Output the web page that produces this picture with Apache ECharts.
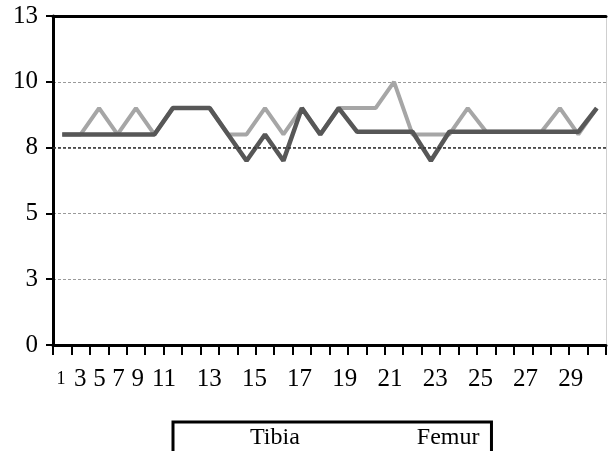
<!DOCTYPE html>
<html><head><meta charset="utf-8">
<script src="https://cdn.jsdelivr.net/npm/echarts@6/dist/echarts.min.js"></script>
<style>html,body{margin:0;padding:0;background:#fff}#c{width:609px;height:451px}</style>
</head><body><div id="c"></div>
<script>
const days = ['1','2','3','4','5','6','7','8','9','10','11','12','13','14','15','16','17','18','19','20','21','22','23','24','25','26','27','28','29','30'];
const tickLabels = ['1','3','5','7','9','11','13','15','17','19','21','23','25','27','29'];
const tibia = [8,8,9,8,9,8,9,9,9,8,8,9,8,9,8,9,9,9,10,8,8,8,9,8.1,8.1,8.1,8.1,9,8,9];
const femur = [8,8,8,8,8,8,9,9,9,8,7,8,7,9,8,9,8.1,8.1,8.1,8.1,7,8.1,8.1,8.1,8.1,8.1,8.1,8.1,8.1,9];
const yMin = 0, yMax = 12.5, yStep = 2.5;
const refLine = 7.5;

const serif = '"Liberation Serif","Times New Roman",serif';
const chart = echarts.init(document.getElementById('c'), null, {renderer: 'canvas'});

const labelGraphics = tickLabels.map((t, k) => ({
  type: 'text',
  x: k < 5 ? 61 + k * 19.2 : 164 + (k - 5) * 45.2,
  y: 379,
  silent: true,
  style: {text: t, fill: '#000', fontFamily: serif, fontSize: k === 0 ? 18 : 25, align: 'center', verticalAlign: 'middle'}
}));

chart.setOption({
  animation: false,
  backgroundColor: '#fff',
  grid: {left: 53, right: 3, top: 16, bottom: 106, containLabel: false},
  xAxis: [{
    type: 'category', data: days, boundaryGap: true,
    axisLine: {onZero: false, lineStyle: {color: '#000', width: 3}},
    axisTick: {show: true, interval: 0, length: 10, lineStyle: {color: '#000', width: 2}},
    axisLabel: {show: false}, splitLine: {show: false}
  }, {
    type: 'category', data: days, position: 'top', boundaryGap: true,
    axisLine: {onZero: false, lineStyle: {color: '#000', width: 3}},
    axisTick: {show: false}, axisLabel: {show: false}, splitLine: {show: false}
  }],
  yAxis: [{
    type: 'value', min: yMin, max: yMax, interval: yStep,
    axisLine: {show: true, onZero: false, lineStyle: {color: '#000', width: 3}},
    axisTick: {show: true, length: 7, lineStyle: {color: '#000', width: 2}},
    axisLabel: {formatter: v => String(Math.round(v)), color: '#000', fontFamily: serif, fontSize: 25, margin: 15},
    splitLine: {show: true, lineStyle: {color: '#9a9a9a', type: [3, 2], width: 1}}
  }, {
    type: 'value', min: yMin, max: yMax, interval: yStep, position: 'right',
    axisLine: {show: true, onZero: false, lineStyle: {color: '#cfcfcf', width: 1}},
    axisTick: {show: false}, axisLabel: {show: false}, splitLine: {show: false}
  }],
  legend: {
    data: ['Tibia', 'Femur'], left: 173, top: 422, orient: 'horizontal',
    icon: 'rect', itemWidth: 0, itemHeight: 0, itemGap: 112,
    padding: [4, 12, 40, 72], borderColor: '#000', borderWidth: 3,
    selectedMode: false,
    textStyle: {fontFamily: serif, fontSize: 24, color: '#000'}
  },
  graphic: labelGraphics,
  series: [{
    name: 'Tibia', type: 'line', data: tibia, symbol: 'none',
    lineStyle: {color: '#a6a6a6', width: 4}, itemStyle: {color: '#a6a6a6'},
    markLine: {silent: true, symbol: 'none', label: {show: false},
      lineStyle: {color: '#333', type: [3, 2], width: 1.5}, data: [{yAxis: refLine}]}
  }, {
    name: 'Femur', type: 'line', data: femur, symbol: 'none',
    lineStyle: {color: '#575757', width: 4.5}, itemStyle: {color: '#575757'}
  }]
});
</script></body></html>
